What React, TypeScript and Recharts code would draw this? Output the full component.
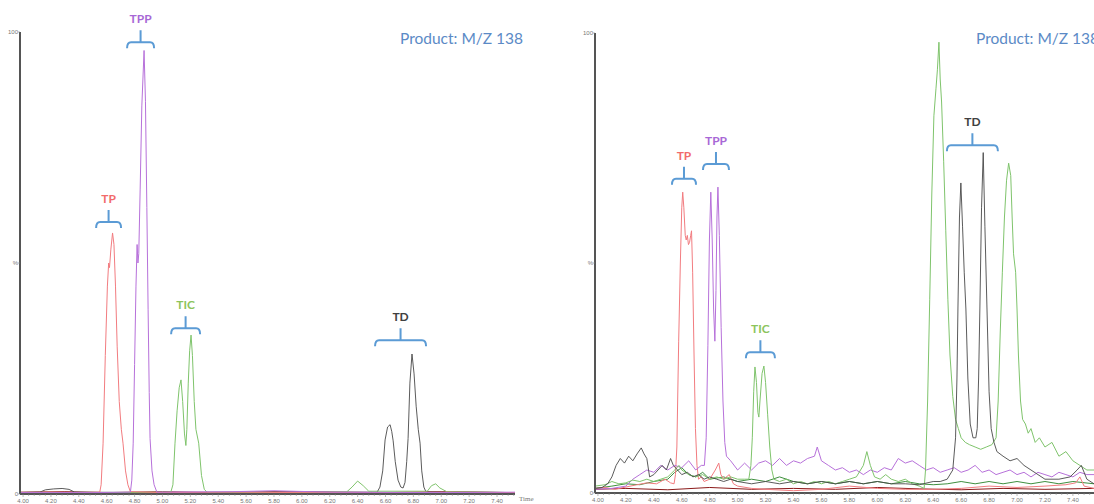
import React from 'react';
import { LineChart, Line, XAxis, YAxis, ReferenceLine } from 'recharts';

type Pt = [number, number];

// ---------- axes / ticks ----------
const MAJOR_TICKS = [4.0, 4.2, 4.4, 4.6, 4.8, 5.0, 5.2, 5.4, 5.6, 5.8, 6.0, 6.2, 6.4, 6.6, 6.8, 7.0, 7.2, 7.4];
const Y_TICKS = [0, 50, 100];
const Y_TICK_LABELS: Record<number, string> = { 0: '0', 50: '%', 100: '100' };
const LEFT_DOMAIN: [number, number] = [3.978, 7.529];
const RIGHT_DOMAIN: [number, number] = [3.979, 7.551];
const TITLE = 'Product: M/Z 138';

// ---------- left panel series (time, %) ----------
const L_TP: Pt[] = [
  [3.978, 0.3], [4.2, 0.4], [4.4, 0.3], [4.55, 0.4], [4.56, 2], [4.574, 11], [4.59, 30], [4.605, 45],
  [4.614, 50], [4.62, 49], [4.63, 53], [4.642, 56.5], [4.652, 54], [4.663, 45], [4.675, 32], [4.69, 20],
  [4.705, 14], [4.717, 11], [4.735, 5], [4.752, 2], [4.77, 0.5], [5.0, 0.3], [5.5, 0.4], [6.0, 0.3],
  [6.5, 0.3], [7.0, 0.4], [7.529, 0.3],
];
const L_TPP: Pt[] = [
  [3.978, 0.3], [4.5, 0.3], [4.77, 0.4], [4.78, 3], [4.79, 11], [4.8, 28], [4.81, 45], [4.818, 54],
  [4.824, 50], [4.83, 52], [4.84, 66], [4.852, 84], [4.868, 96], [4.878, 85], [4.888, 62], [4.897, 40],
  [4.905, 22], [4.911, 12], [4.925, 5], [4.94, 2], [4.96, 0.4], [5.5, 0.5], [5.8, 0.7], [6.2, 0.4],
  [7.0, 0.3], [7.529, 0.4],
];
const L_TIC: Pt[] = [
  [3.978, 0.3], [4.6, 0.3], [5.06, 0.4], [5.075, 2], [5.09, 11], [5.105, 18], [5.12, 23], [5.133, 24.7],
  [5.145, 20], [5.158, 13], [5.168, 10.5], [5.175, 14], [5.185, 24], [5.195, 31], [5.205, 34.4],
  [5.215, 30], [5.228, 20], [5.24, 14], [5.26, 11], [5.28, 4], [5.3, 1], [5.32, 0.4], [6.0, 0.3],
  [6.32, 0.4], [6.36, 1.5], [6.4, 2.8], [6.44, 1.8], [6.48, 0.6], [6.9, 0.6], [6.93, 1.8], [6.96, 2.2],
  [6.99, 1.3], [7.04, 0.5], [7.529, 0.3],
];
const L_TD: Pt[] = [
  [3.978, 0.3], [4.12, 0.4], [4.16, 0.9], [4.22, 1.1], [4.28, 1.2], [4.33, 1.0], [4.37, 0.4], [5.0, 0.3],
  [6.0, 0.4], [6.54, 0.4], [6.56, 1.5], [6.58, 5], [6.597, 11.7], [6.615, 14.5], [6.633, 15], [6.645, 13.5],
  [6.655, 11.5], [6.67, 7], [6.69, 3], [6.71, 1.5], [6.726, 1.3], [6.74, 2.5], [6.752, 7], [6.762, 12],
  [6.775, 24], [6.79, 30.3], [6.805, 26], [6.82, 19], [6.835, 14], [6.848, 11], [6.86, 5], [6.875, 1.5],
  [6.89, 0.5], [7.2, 0.4], [7.529, 0.3],
];
const L_BASE: Pt[] = [
  [3.978, 0.4], [4.3, 0.5], [4.6, 0.3], [5.0, 0.5], [5.4, 0.3], [5.8, 0.5], [6.2, 0.4], [6.6, 0.3],
  [7.0, 0.5], [7.529, 0.3],
];

// ---------- right panel series (time, %) ----------
const R_TP: Pt[] = [
  [3.979, 1], [4.05, 1.2], [4.12, 0.8], [4.2, 1.3], [4.28, 1.8], [4.35, 2.2], [4.42, 2], [4.48, 3],
  [4.52, 2.2], [4.545, 2], [4.555, 4], [4.565, 10], [4.578, 33], [4.59, 50], [4.6, 62], [4.607, 65.4],
  [4.615, 62], [4.625, 56], [4.632, 55], [4.64, 56], [4.648, 54], [4.656, 54.5], [4.664, 56], [4.67, 57],
  [4.678, 48], [4.688, 30], [4.698, 14], [4.709, 6], [4.72, 3], [4.74, 3.5], [4.76, 2.5], [4.8, 3],
  [4.84, 5], [4.865, 6.5], [4.88, 4], [4.9, 3], [4.94, 4], [4.97, 2], [5.0, 1.5], [5.1, 1], [5.2, 0.8],
  [5.4, 0.5], [5.6, 0.8], [5.8, 1.5], [6.0, 1], [6.2, 0.8], [6.4, 0.8], [6.6, 1], [6.8, 1.5], [7.0, 1.2],
  [7.2, 1.5], [7.35, 1.8], [7.42, 2.2], [7.45, 3.5], [7.48, 1.5], [7.551, 1],
];
const R_TPP: Pt[] = [
  [3.979, 0.8], [4.1, 1], [4.2, 1.5], [4.25, 3], [4.3, 4], [4.35, 5], [4.4, 4.5], [4.45, 6], [4.5, 5],
  [4.55, 6], [4.6, 5.5], [4.65, 7], [4.7, 5], [4.74, 6], [4.762, 6], [4.775, 12], [4.787, 32], [4.798, 55],
  [4.808, 65.4], [4.818, 55], [4.828, 40], [4.837, 33], [4.845, 44], [4.852, 60], [4.859, 66.5],
  [4.869, 56], [4.882, 36], [4.895, 20], [4.908, 11], [4.92, 8], [4.95, 7], [5.0, 5], [5.05, 6.5],
  [5.1, 5], [5.15, 6.5], [5.2, 7], [5.25, 6], [5.3, 7.5], [5.35, 6], [5.4, 7], [5.45, 6.5], [5.5, 7.5],
  [5.55, 8], [5.57, 10], [5.6, 7], [5.65, 6], [5.7, 5], [5.75, 5.5], [5.8, 4.5], [5.85, 5], [5.9, 4],
  [5.95, 5], [6.0, 4.5], [6.05, 5.5], [6.1, 5], [6.15, 7.5], [6.2, 6.5], [6.25, 7], [6.3, 6], [6.35, 5],
  [6.4, 5.5], [6.45, 4.5], [6.5, 5], [6.55, 5.5], [6.6, 4.5], [6.65, 5], [6.7, 6], [6.75, 4.5], [6.8, 5],
  [6.85, 4], [6.9, 4.5], [6.95, 5], [7.0, 4], [7.05, 4.5], [7.1, 3.5], [7.15, 4.5], [7.2, 4], [7.25, 3.5],
  [7.3, 4.5], [7.35, 4], [7.4, 3.5], [7.45, 4.5], [7.5, 4], [7.551, 4],
];
const R_TIC: Pt[] = [
  [3.979, 1.5], [4.05, 1.8], [4.1, 2.5], [4.15, 2], [4.2, 2.2], [4.25, 2.8], [4.3, 2.5], [4.35, 3],
  [4.4, 2.5], [4.45, 3], [4.5, 3.5], [4.55, 5], [4.58, 6], [4.6, 5], [4.65, 4], [4.7, 3.5], [4.75, 4],
  [4.8, 3], [4.85, 3.5], [4.9, 3], [4.95, 3.5], [5.0, 3], [5.05, 3], [5.08, 3], [5.095, 6], [5.105, 12],
  [5.115, 22], [5.124, 27.4], [5.135, 24], [5.145, 17.5], [5.152, 16.5], [5.16, 20], [5.175, 26],
  [5.188, 27.6], [5.2, 24], [5.215, 17], [5.23, 10], [5.245, 5], [5.26, 3], [5.3, 2.5], [5.35, 3],
  [5.4, 2], [5.45, 2.5], [5.5, 2], [5.55, 2.5], [5.6, 2], [5.65, 2.5], [5.7, 2], [5.75, 2.5], [5.8, 3],
  [5.85, 3.5], [5.9, 6], [5.925, 9], [5.95, 6], [5.98, 3.5], [6.02, 3], [6.06, 4], [6.1, 3], [6.15, 2.5],
  [6.2, 3], [6.25, 2], [6.3, 1.5], [6.335, 1], [6.345, 5], [6.36, 20], [6.375, 42], [6.39, 65],
  [6.405, 82], [6.42, 88], [6.43, 92], [6.441, 98], [6.45, 90], [6.46, 85], [6.475, 72], [6.49, 57],
  [6.505, 42], [6.52, 30], [6.54, 21], [6.56, 16], [6.58, 14], [6.6, 12], [6.63, 11], [6.66, 10.5],
  [6.7, 10], [6.74, 9.5], [6.78, 10], [6.82, 10.5], [6.85, 12], [6.865, 20], [6.88, 35], [6.895, 48],
  [6.91, 60], [6.925, 68], [6.94, 71.7], [6.955, 69], [6.965, 60], [6.975, 52], [6.99, 48], [7.0, 40],
  [7.01, 30], [7.025, 20], [7.04, 16], [7.06, 15], [7.08, 13], [7.1, 14], [7.13, 11], [7.16, 12],
  [7.2, 10], [7.25, 11], [7.3, 8], [7.35, 9], [7.4, 7], [7.45, 6], [7.5, 5], [7.551, 5],
];
const R_TD: Pt[] = [
  [3.979, 1], [4.03, 1.2], [4.07, 2], [4.1, 3.5], [4.13, 6], [4.16, 7.5], [4.19, 6.5], [4.22, 8],
  [4.25, 7], [4.28, 8.5], [4.31, 9.8], [4.33, 8.5], [4.35, 7.5], [4.37, 3.5], [4.4, 4], [4.43, 5],
  [4.46, 6], [4.49, 5], [4.52, 7.5], [4.54, 6], [4.57, 5], [4.6, 4], [4.64, 4.5], [4.68, 3.5], [4.72, 4],
  [4.76, 3], [4.8, 3.5], [4.85, 3], [4.9, 2.5], [4.95, 3], [5.0, 2.5], [5.1, 2], [5.2, 2.5], [5.3, 2],
  [5.4, 2.5], [5.5, 2], [5.6, 2.5], [5.7, 2], [5.8, 2.5], [5.9, 2], [6.0, 2.5], [6.1, 2], [6.2, 2],
  [6.3, 1.8], [6.4, 2.5], [6.45, 2.5], [6.5, 3], [6.54, 5], [6.56, 12], [6.57, 25], [6.577, 40],
  [6.588, 60], [6.598, 67.4], [6.61, 58], [6.622, 48], [6.634, 40], [6.648, 25], [6.665, 15],
  [6.685, 12], [6.705, 12], [6.715, 14], [6.725, 25], [6.734, 40], [6.746, 62], [6.758, 74], [6.77, 58],
  [6.785, 40], [6.8, 22], [6.815, 14], [6.835, 11], [6.856, 9], [6.9, 8], [6.95, 7], [7.0, 7.5],
  [7.05, 6], [7.1, 5], [7.15, 4], [7.2, 3], [7.3, 3], [7.38, 3.5], [7.43, 5], [7.46, 6], [7.5, 3],
  [7.551, 2],
];
const R_NOISE: Pt[] = [
  [3.979, 1], [4.1, 1.5], [4.2, 2], [4.3, 1.8], [4.4, 2.5], [4.5, 3], [4.55, 4.5], [4.6, 5.5], [4.65, 4],
  [4.7, 3.5], [4.75, 4.5], [4.8, 3], [4.9, 3.5], [5.0, 2.5], [5.1, 3], [5.2, 2.5], [5.3, 3.5], [5.4, 2.5],
  [5.5, 2], [5.6, 2.5], [5.7, 2], [5.8, 2.5], [5.9, 2], [6.0, 2.5], [6.1, 2], [6.2, 2.5], [6.3, 2],
  [6.4, 1.8], [6.5, 2], [6.6, 2.5], [6.7, 2], [6.8, 2.5], [6.9, 2], [7.0, 2.5], [7.1, 2], [7.2, 2.5],
  [7.3, 2], [7.4, 2.5], [7.551, 2],
];
const R_BASE: Pt[] = [
  [3.979, 0.8], [4.2, 1], [4.5, 0.7], [4.8, 1.2], [5.1, 0.8], [5.4, 1], [5.7, 0.8], [6.0, 1.2], [6.3, 0.9],
  [6.6, 0.7], [6.9, 1], [7.2, 0.8], [7.551, 1],
];

// ---------- bracket annotations (time span, % level) ----------
type Ann = { label: string; series: string; t0: number; t1: number; level: number };
const L_ANN: Ann[] = [
  { label: 'TP', series: 'TP', t0: 4.524, t1: 4.703, level: 58.9 },
  { label: 'TPP', series: 'TPP', t0: 4.746, t1: 4.94, level: 97.8 },
  { label: 'TIC', series: 'TIC', t0: 5.062, t1: 5.27, level: 35.9 },
  { label: 'TD', series: 'TD', t0: 6.525, t1: 6.891, level: 33.3 },
];
const R_ANN: Ann[] = [
  { label: 'TP', series: 'TP', t0: 4.53, t1: 4.702, level: 68.3 },
  { label: 'TPP', series: 'TPP', t0: 4.752, t1: 4.938, level: 71.5 },
  { label: 'TIC', series: 'TIC', t0: 5.059, t1: 5.267, level: 30.6 },
  { label: 'TD', series: 'TD', t0: 6.498, t1: 6.863, level: 75.6 },
];

// ---------- styles ----------
const LINE_COLORS: Record<string, string> = {
  TP: '#f27c80', TPP: '#b771da', TIC: '#7fc46c', TD: '#484848', BASE: '#8b1a1a', NOISE: '#3f8f3f',
};
const LABEL_COLORS: Record<string, string> = {
  TP: '#f26b6b', TPP: '#a868d6', TIC: '#8cc45c', TD: '#404040',
};
const BRACKET = '#5b9bd5';
const AXIS = '#555';
const TICK_TXT = '#777';

const toRows = (pts: Pt[]) => pts.map(([t, v]) => ({ t, v }));

const minorTicks = (domain: [number, number]) => {
  const out: number[] = [];
  MAJOR_TICKS.forEach((m) => {
    out.push(m);
    for (let k = 1; k <= 4; k++) out.push(Math.round((m + k * 0.04) * 1000) / 1000);
  });
  return out.filter((v) => v >= domain[0] && v <= domain[1]);
};

const XTick = (props: any) => {
  const { x, y, payload } = props;
  const v = payload.value as number;
  const major = MAJOR_TICKS.some((m) => Math.abs(m - v) < 1e-6);
  return (
    <g>
      <line x1={x} x2={x} y1={y} y2={y + (major ? 3 : 2)} stroke="#888" strokeWidth={0.6} />
      {major && (
        <text x={x} y={y + 9} textAnchor="middle" fontSize={6} fill={TICK_TXT} fontFamily="Liberation Sans, Arial, sans-serif">
          {v.toFixed(2)}
        </text>
      )}
    </g>
  );
};

const YTick = (props: any) => {
  const { x, y, payload } = props;
  const v = payload.value as number;
  return (
    <g>
      <line x1={x - 2} x2={x} y1={y} y2={y} stroke="#888" strokeWidth={0.6} />
      <text x={x - 2} y={y + 2} textAnchor="end" fontSize={6} fill={TICK_TXT} fontFamily="Liberation Sans, Arial, sans-serif">
        {Y_TICK_LABELS[v]}
      </text>
    </g>
  );
};

const bracketShape = (label: string, color: string) => (p: any) => {
  const { x1, x2, y1 } = p;
  const xc = (x1 + x2) / 2;
  const d = `M${x1},${y1 + 6} Q${x1},${y1} ${x1 + 4},${y1} L${x2 - 4},${y1} Q${x2},${y1} ${x2},${y1 + 6} M${xc},${y1} L${xc},${y1 - 12}`;
  return (
    <g>
      <path d={d} fill="none" stroke={BRACKET} strokeWidth={2} />
      <text x={xc} y={y1 - 19} textAnchor="middle" fill={color} fontSize={12} fontWeight={700} fontFamily="Lato, 'Open Sans', sans-serif">
        {label}
      </text>
    </g>
  );
};

type Series = { key: string; pts: Pt[] };

const Panel = (props: {
  width: number; top: number; right: number; xh: number; domain: [number, number];
  series: Series[]; ann: Ann[]; timeLabel: boolean;
}) => {
  const { width, top, right, xh, domain, series, ann, timeLabel } = props;
  return (
    <LineChart width={width} height={504} margin={{ top, right, bottom: 0, left: 0 }}>
      <XAxis
        dataKey="t" type="number" domain={domain} allowDataOverflow ticks={minorTicks(domain)} interval={0}
        height={xh} tickSize={0} tickMargin={0} tickLine={false} tick={<XTick />}
        axisLine={{ stroke: AXIS, strokeWidth: 2 }}
        label={timeLabel ? { value: 'Time', position: 'right', offset: 4, fontSize: 7, fill: TICK_TXT } : undefined}
      />
      <YAxis
        type="number" domain={[0, 100]} allowDataOverflow ticks={Y_TICKS} interval={0} width={20}
        tickSize={0} tickMargin={0} tickLine={false} tick={<YTick />} axisLine={{ stroke: AXIS, strokeWidth: 2 }}
      />
      {series.map((s) => (
        <Line
          key={s.key} data={toRows(s.pts)} dataKey="v" type="linear" stroke={LINE_COLORS[s.key]}
          strokeWidth={s.key === 'TD' ? 0.9 : 1} dot={false} activeDot={false} isAnimationActive={false}
        />
      ))}
      {ann.map((a) => (
        <ReferenceLine
          key={a.label} segment={[{ x: a.t0, y: a.level }, { x: a.t1, y: a.level }]} ifOverflow="visible"
          shape={bracketShape(a.label, LABEL_COLORS[a.series])}
        />
      ))}
    </LineChart>
  );
};

const titleStyle: React.CSSProperties = {
  position: 'absolute', top: 30, fontFamily: "Lato, 'Open Sans', sans-serif", fontSize: 15.5,
  color: '#5b8ac6', lineHeight: '16px', whiteSpace: 'nowrap',
};

export default function App() {
  return (
    <div style={{ position: 'absolute', left: 0, top: 0, width: 1094, height: 504, background: '#fff', overflow: 'hidden' }}>
      <div style={{ position: 'absolute', left: 0, top: 0 }}>
        <Panel
          width={540} top={32} right={25} xh={10} domain={LEFT_DOMAIN} timeLabel
          series={[
            { key: 'BASE', pts: L_BASE }, { key: 'TD', pts: L_TD }, { key: 'TIC', pts: L_TIC },
            { key: 'TP', pts: L_TP }, { key: 'TPP', pts: L_TPP },
          ]}
          ann={L_ANN}
        />
      </div>
      <div style={{ position: 'absolute', left: 575, top: 0 }}>
        <Panel
          width={519} top={33} right={0} xh={11} domain={RIGHT_DOMAIN} timeLabel={false}
          series={[
            { key: 'BASE', pts: R_BASE }, { key: 'NOISE', pts: R_NOISE }, { key: 'TP', pts: R_TP },
            { key: 'TPP', pts: R_TPP }, { key: 'TIC', pts: R_TIC }, { key: 'TD', pts: R_TD },
          ]}
          ann={R_ANN}
        />
      </div>
      <div style={{ ...titleStyle, left: 400 }}>{TITLE}</div>
      <div style={{ ...titleStyle, left: 976 }}>{TITLE}</div>
    </div>
  );
}
